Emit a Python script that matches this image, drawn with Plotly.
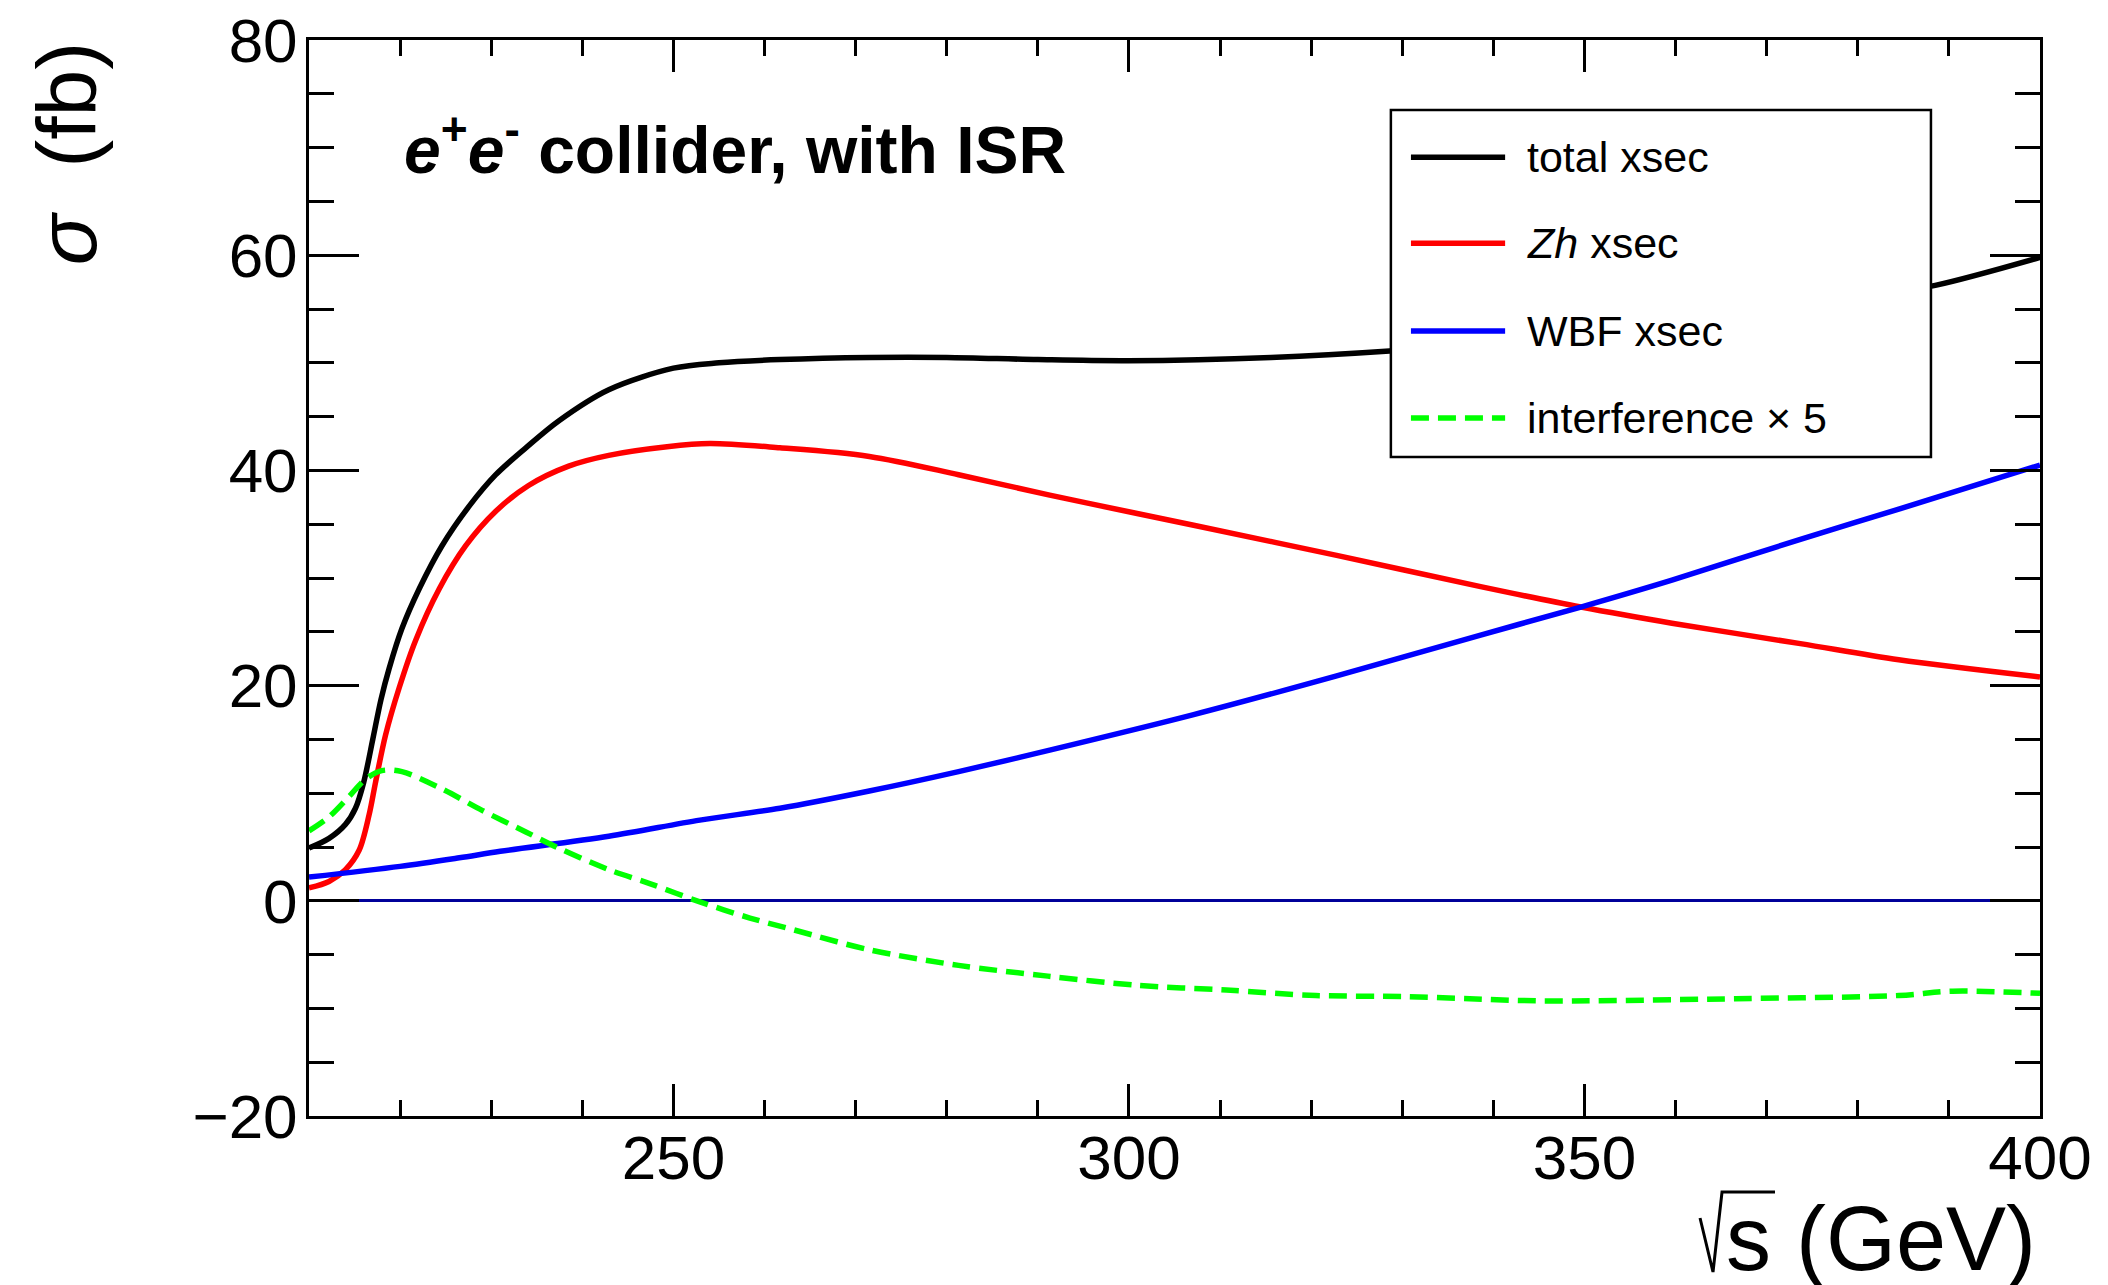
import plotly.graph_objects as go

# ---------------- data ----------------
sqrt_s_total = [210.0, 212.2, 214.0, 215.1, 216.0, 217.0, 217.9, 218.8, 220.2, 222.1, 224.6,
                227.6, 230.5, 233.8, 237.4, 242.9, 250.0, 255.0, 261.7, 271.5, 280.0, 290.0,
                299.9, 315.6, 328.6, 340.0, 350.0, 360.0, 370.0, 380.0, 388.5, 400.0]
sigma_total = [4.9, 5.8, 7.1, 8.6, 11.0, 15.0, 18.7, 21.6, 25.3, 29.0, 33.0,
               36.7, 39.6, 42.1, 44.6, 47.5, 49.5, 50.0, 50.3, 50.5, 50.5, 50.3,
               50.2, 50.5, 51.1, 51.9, 52.6, 53.6, 54.8, 56.0, 57.2, 59.8]

sqrt_s_zh = [210.0, 212.2, 214.0, 215.5, 216.6, 217.3, 218.4, 219.9, 221.7, 224.3, 227.2,
             230.5, 234.1, 238.5, 242.9, 249.3, 254.0, 261.7, 271.5, 281.3, 291.3, 300.9,
             307.1, 322.8, 338.6, 349.6, 359.6, 373.7, 384.5, 400.0]
sigma_zh = [1.2, 1.8, 2.9, 4.7, 8.0, 11.0, 15.4, 19.8, 24.2, 29.0, 33.0,
            36.2, 38.6, 40.4, 41.4, 42.2, 42.5, 42.1, 41.3, 39.6, 37.7, 36.0,
            34.9, 32.1, 29.2, 27.3, 25.8, 23.9, 22.4, 20.8]

sqrt_s_wbf = [210.0, 220.0, 226.5, 231.0, 242.9, 252.9, 261.7, 271.5, 281.3, 291.3, 307.1,
              322.8, 338.6, 349.6, 359.6, 373.7, 384.5, 400.0]
sigma_wbf = [2.2, 3.2, 4.0, 4.6, 6.0, 7.5, 8.6, 10.2, 12.0, 14.0, 17.3,
             20.9, 24.7, 27.3, 29.8, 33.6, 36.4, 40.5]

sqrt_s_int = [210.0, 212.2, 214.4, 216.2, 218.0, 220.2, 224.6, 229.0, 233.8, 237.4, 242.9,
              247.4, 252.9, 258.4, 263.2, 271.5, 281.3, 291.1, 300.9, 310.7, 320.5, 330.3,
              337.4, 345.2, 366.6, 384.5, 390.4, 400.0]
sigma_int_x5 = [6.5, 7.8, 9.7, 11.3, 12.1, 12.0, 10.4, 8.4, 6.4, 4.9, 2.9,
                1.6, -0.1, -1.6, -2.7, -4.55, -6.0, -7.0, -7.85, -8.3, -8.8, -8.9,
                -9.1, -9.3, -9.1, -8.8, -8.4, -8.6]

legend_labels = ["total xsec", "<i>Zh</i> xsec", "WBF xsec", "interference \u00d7 5"]
x_ticks = [250, 300, 350, 400]
y_ticks = [-20, 0, 20, 40, 60, 80]

# ---------------- styles ----------------
FONT = "Liberation Sans, Arial, Helvetica, sans-serif"
colors = ["#000000", "#ff0000", "#0000ff", "#00ff00"]
dashes = ["solid", "solid", "solid", "18px,9px"]
LW = 5.5

fig = go.Figure()
series = [(sqrt_s_total, sigma_total), (sqrt_s_zh, sigma_zh),
          (sqrt_s_wbf, sigma_wbf), (sqrt_s_int, sigma_int_x5)]
for (xs, ys), c, d, name in zip(series, colors, dashes, legend_labels):
    fig.add_trace(go.Scatter(x=xs, y=ys, mode="lines", name=name, showlegend=False,
                             line=dict(color=c, width=LW, dash=d, shape="spline", smoothing=0.9)))

axis_common = dict(showgrid=False, showline=True, linecolor="black", linewidth=3,
                   mirror="allticks", ticks="inside", tickcolor="black", tickwidth=3,
                   ticklabeloverflow="allow",
                   tickfont=dict(family=FONT, size=62, color="black"))

fig.update_xaxes(range=[210, 400], tickvals=x_ticks, ticklen=32,
                 minor=dict(dtick=10, tick0=0, ticks="inside", ticklen=16, tickwidth=2.5,
                            tickcolor="black", showgrid=False),
                 zeroline=False, ticklabelstandoff=-14, **axis_common)
fig.update_yaxes(range=[-20, 80], tickvals=y_ticks, ticklen=50,
                 minor=dict(dtick=5, tick0=0, ticks="inside", ticklen=25, tickwidth=2.5,
                            tickcolor="black", showgrid=False),
                 zeroline=True, zerolinecolor="#00009a", zerolinewidth=3,
                 ticklabelstandoff=-4, **axis_common)

# ---------------- legend (drawn box) ----------------
x_box0, x_box1, y_box0, y_box1 = 0.625, 0.937, 0.6125, 0.935
fig.add_shape(type="rect", xref="paper", yref="paper", x0=x_box0, x1=x_box1,
              y0=y_box0, y1=y_box1, line=dict(color="black", width=2.5),
              fillcolor="white", layer="above")
entry_y = [0.891, 0.811, 0.7295, 0.6487]
for ey, c, d, lab in zip(entry_y, colors, dashes, legend_labels):
    fig.add_shape(type="line", xref="paper", yref="paper", x0=0.6366, x1=0.691,
                  y0=ey, y1=ey, line=dict(color=c, width=LW, dash=d), layer="above")
    fig.add_annotation(xref="paper", yref="paper", x=0.7025, y=ey, text=lab,
                       showarrow=False, xanchor="left", yanchor="middle",
                       font=dict(family=FONT, size=43, color="black"))

# ---------------- texts ----------------
fig.add_annotation(xref="paper", yref="paper", x=0.054, y=0.902,
                   text="<b><i>e</i><sup>+</sup><i>e</i><sup>-</sup> collider, with ISR</b>",
                   showarrow=False, xanchor="left", yanchor="middle",
                   font=dict(family=FONT, size=66, color="black"))
fig.add_annotation(xref="paper", yref="paper", x=-0.140, y=1.0,
                   text="<i>\u03c3</i>  (fb)", textangle=-90,
                   showarrow=False, xanchor="center", yanchor="top",
                   font=dict(family=FONT, size=84, color="black"))
# x-axis title: radical sign drawn as a path, then "s (GeV)"
fig.add_shape(type="path", xref="paper", yref="paper",
              path="M0.8036,-0.0948 L0.8111,-0.1450 L0.8163,-0.0706 L0.8469,-0.0706",
              line=dict(color="black", width=3))
fig.add_annotation(xref="paper", yref="paper", x=0.999, y=-0.1143,
                   text="s (GeV)",
                   showarrow=False, xanchor="right", yanchor="middle",
                   font=dict(family=FONT, size=90, color="black"))

fig.update_layout(width=2108, height=1285, paper_bgcolor="white", plot_bgcolor="white",
                  margin=dict(l=301, r=76, t=32, b=177, autoexpand=False),
                  showlegend=False)

fig.write_html("out.html")
